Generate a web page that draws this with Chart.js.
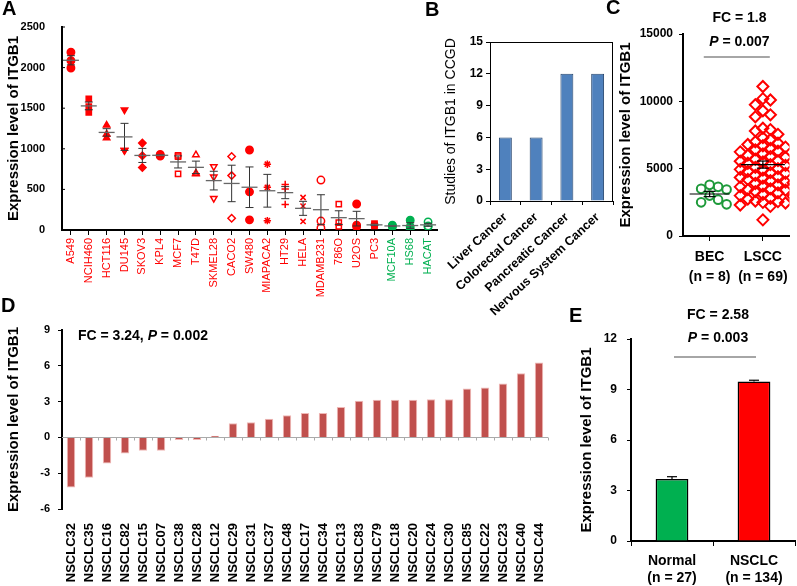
<!DOCTYPE html>
<html lang="en">
<head>
<meta charset="UTF-8">
<title>ITGB1 expression</title>
<script src="https://cdn.jsdelivr.net/npm/chart.js"></script>
<style>
  body { margin: 0; background: #fff; }
  #fig { position: relative; width: 797px; height: 586px; overflow: hidden; background: #fff; }
  #fig canvas { position: absolute; }
  .lbl { position: absolute; font: bold 20px Arial, "Liberation Sans", sans-serif; line-height: 20px; }
</style>
</head>
<body>
<div id="fig">
  <canvas id="chartA" width="445" height="320" style="left:0;top:0"></canvas>
  <canvas id="chartB" width="180" height="320" style="left:440px;top:0"></canvas>
  <canvas id="chartC" width="187" height="290" style="left:610px;top:0"></canvas>
  <canvas id="chartD" width="560" height="276" style="left:0;top:310px"></canvas>
  <canvas id="chartE" width="237" height="286" style="left:560px;top:300px"></canvas>
  <div class="lbl" style="left:2px;top:-2px">A</div>
  <div class="lbl" style="left:425px;top:-1px">B</div>
  <div class="lbl" style="left:606px;top:-3px">C</div>
  <div class="lbl" style="left:1px;top:295px">D</div>
  <div class="lbl" style="left:569px;top:305px">E</div>
</div>
<script>
// ---- data ----
// A: cell lines, three replicates each
const cellLines = ['A549', 'NCIH460', 'HCT116', 'DU145', 'SKOV3', 'KPL4', 'MCF7', 'T47D', 'SKMEL28', 'CACO2',
  'SW480', 'MIAPACA2', 'HT29', 'HELA', 'MDAMB231', '786O', 'U2OS', 'PC3', 'MCF10A', 'HS68', 'HACAT'];
const cellValues = [
  [2190, 2085, 1995], [1615, 1520, 1450], [1290, 1180, 1135], [1480, 980, 980], [1070, 915, 770],
  [930, 920, 910], [920, 905, 690], [925, 700, 690], [780, 655, 390], [905, 670, 145],
  [985, 470, 125], [810, 525, 115], [560, 505, 315], [400, 295, 105], [615, 110, 25],
  [320, 90, 45], [320, 60, 40], [80, 60, 50], [50, 40, 60], [120, 40, 5], [100, 50, 40]
];
const normalLines = ['MCF10A', 'HS68', 'HACAT'];

// B: CCGD studies
const cancerTypes = ['Liver Cancer', 'Colorectal Cancer', 'Pancreatic Cancer', 'Nervous System Cancer'];
const studyCounts = [6, 6, 12, 12];

// C: BEC vs LSCC
const groupsC = [['BEC', '(n = 8)'], ['LSCC', '(n = 69)']];
const becValues = [3800, 3650, 3500, 3450, 3000, 2700, 2500, 2350];
const lsccValues = [11100, 10200, 10100, 9750, 9300, 9000, 8850, 8000, 7900, 7800,
  7550, 7300, 7150, 7000, 6900, 6700, 6600, 6500, 6400, 6300,
  6250, 6100, 6000, 5900, 5850, 5700, 5600, 5550, 5400, 5300,
  5250, 5100, 5000, 4950, 4800, 4700, 4650, 4500, 4400, 4350,
  4200, 4100, 4000, 3950, 3800, 3700, 3650, 3500, 3450, 3300,
  3200, 3100, 3000, 2950, 2800, 2750, 2600, 2550, 2500, 2450,
  2300, 2200, 6800, 5500, 4900, 4300, 3900, 3400, 1200];

// D: NSCLC samples
const samplesD = ['NSCLC32', 'NSCLC35', 'NSCLC16', 'NSCLC82', 'NSCLC15', 'NSCLC07', 'NSCLC38', 'NSCLC28', 'NSCLC12',
  'NSCLC29', 'NSCLC31', 'NSCLC37', 'NSCLC48', 'NSCLC17', 'NSCLC34', 'NSCLC13', 'NSCLC83', 'NSCLC79', 'NSCLC18',
  'NSCLC20', 'NSCLC24', 'NSCLC30', 'NSCLC85', 'NSCLC22', 'NSCLC23', 'NSCLC40', 'NSCLC44'];
const valuesD = [-4.2, -3.39, -2.19, -1.35, -1.12, -1.12, -0.22, -0.22, 0.14,
  1.18, 1.26, 1.57, 1.85, 2.05, 2.05, 2.55, 3.08, 3.15, 3.15,
  3.15, 3.2, 3.2, 4.09, 4.18, 4.51, 5.38, 6.28];

// E: Normal vs NSCLC
const groupsE = [['Normal', '(n = 27)'], ['NSCLC', '(n = 134)']];
const meansE = [3.68, 9.47];
const semE = [0.14, 0.08];

// ---- styles ----
const FONT = 'Arial, "Liberation Sans", sans-serif';
const RED = '#ff0000';
const GREEN = '#00b050';
Chart.defaults.font.family = FONT;
Chart.defaults.color = '#000';
Chart.defaults.animation = false;
Chart.defaults.responsive = false;
Chart.defaults.plugins.legend.display = false;
Chart.defaults.plugins.tooltip.enabled = false;

// marker per cell line: [style, filled, rotation]
const markA = [['circle', 1, 0], ['rect', 1, 0], ['triangle', 1, 0], ['triangle', 1, 180], ['rectRot', 1, 0],
  ['circle', 1, 0], ['rect', 0, 0], ['triangle', 0, 0], ['triangle', 0, 180], ['rectRot', 0, 0],
  ['circle', 1, 0], ['star', 0, 0], ['cross', 0, 0], ['crossRot', 0, 0], ['circle', 0, 0],
  ['rect', 0, 0], ['circle', 1, 0], ['rect', 1, 0], ['circle', 1, 0], ['circle', 1, 0], ['circle', 0, 0]];

function fixW(w) { return s => { s.width = w; s.paddingTop = 0; s.paddingBottom = 0; }; }
function fixH(h) { return s => { s.height = h; s.paddingLeft = 0; s.paddingRight = 0; }; }
const plain = v => String(v);
const mean = a => a.reduce((p, v) => p + v, 0) / a.length;
const sem = a => { const m = mean(a); return Math.sqrt(a.reduce((p, v) => p + (v - m) ** 2, 0) / (a.length - 1)) / Math.sqrt(a.length); };

function line(ctx, x1, y1, x2, y2) { ctx.beginPath(); ctx.moveTo(x1, y1); ctx.lineTo(x2, y2); ctx.stroke(); }

// text with italic parts, parts = [[text, italic], ...]
function richText(ctx, parts, x, y, size, align) {
  ctx.save();
  ctx.textBaseline = 'middle';
  ctx.fillStyle = '#000';
  let w = 0;
  parts.forEach(p => { ctx.font = (p[1] ? 'italic ' : '') + 'bold ' + size + 'px ' + FONT; w += ctx.measureText(p[0]).width; });
  let cx = align === 'left' ? x : x - w / 2;
  ctx.textAlign = 'left';
  parts.forEach(p => {
    ctx.font = (p[1] ? 'italic ' : '') + 'bold ' + size + 'px ' + FONT;
    ctx.fillText(p[0], cx, y);
    cx += ctx.measureText(p[0]).width;
  });
  ctx.restore();
}

function yTitle(text, size, pad, bold) {
  return { display: true, text: text, color: '#000', font: { size: size, weight: bold ? 'bold' : 'normal' }, padding: { top: pad, bottom: 0 } };
}

// ---- A ----
new Chart(document.getElementById('chartA'), {
  type: 'scatter',
  data: {
    labels: cellLines,
    datasets: cellLines.map((name, i) => {
      const col = normalLines.includes(name) ? GREEN : RED;
      return {
        data: cellValues[i].map(v => ({ x: name, y: v })),
        pointStyle: markA[i][0],
        rotation: markA[i][2],
        pointRadius: 3.7,
        pointBorderWidth: 1.5,
        borderColor: col,
        backgroundColor: markA[i][1] ? col : 'rgba(0,0,0,0)'
      };
    })
  },
  options: {
    layout: { padding: { top: 27, right: 8, left: 0, bottom: 0 } },
    scales: {
      x: {
        type: 'category', offset: true,
        grid: { display: true, drawOnChartArea: false, offset: false, tickLength: 5, color: '#000' },
        border: { color: '#000', width: 2 },
        ticks: { minRotation: 90, maxRotation: 90, autoSkip: false, padding: 3, font: { size: 11 },
          color: c => normalLines.includes(cellLines[c.index]) ? GREEN : RED },
        afterFit: fixH(90)
      },
      y: {
        min: 0, max: 2500,
        grid: { display: false },
        border: { color: '#000', width: 2 },
        ticks: { stepSize: 500, padding: 9, font: { size: 11, weight: 'bold' }, callback: plain },
        title: yTitle('Expression level of ITGB1', 15, 5, true),
        afterFit: fixW(62)
      }
    }
  },
  plugins: [{
    id: 'semA',
    afterDatasetsDraw(chart) {
      const { ctx, chartArea: a, scales: { x, y } } = chart;
      ctx.save();
      // small inward ticks on the y axis
      ctx.strokeStyle = '#000'; ctx.lineWidth = 1;
      y.ticks.forEach(t => { const py = y.getPixelForValue(t.value); line(ctx, a.left, py, a.left + 3, py); });
      cellValues.forEach((vals, i) => {
        const px = x.getPixelForValue(i);
        const m = y.getPixelForValue(mean(vals));
        const s = sem(vals);
        const hi = y.getPixelForValue(mean(vals) + s), lo = y.getPixelForValue(mean(vals) - s);
        ctx.strokeStyle = '#333'; ctx.lineWidth = 1;
        line(ctx, px, hi, px, lo);
        line(ctx, px - 4, hi, px + 4, hi);
        line(ctx, px - 4, lo, px + 4, lo);
        ctx.strokeStyle = '#666'; ctx.lineWidth = 1.3;
        line(ctx, px - 8, m, px + 8, m);
      });
      ctx.restore();
    }
  }]
});

// ---- B ----
new Chart(document.getElementById('chartB'), {
  type: 'bar',
  data: {
    labels: cancerTypes,
    datasets: [{ data: studyCounts, backgroundColor: '#4f81bd', borderColor: '#26456e', borderWidth: 1,
      barPercentage: 0.42, categoryPercentage: 1 }]
  },
  options: {
    layout: { padding: { top: 42, right: 7, left: 0, bottom: 0 } },
    scales: {
      x: {
        grid: { display: true, drawOnChartArea: false, offset: true, tickLength: 4, color: '#000' },
        border: { color: '#000', width: 1 },
        ticks: { minRotation: 43, maxRotation: 43, autoSkip: false, padding: 5, font: { size: 12.5, weight: 'bold' } },
        afterFit: fixH(119)
      },
      y: {
        min: 0, max: 15,
        grid: { display: true, drawOnChartArea: false, tickLength: 4, color: '#000' },
        border: { color: '#000', width: 1 },
        ticks: { stepSize: 3, padding: 3, font: { size: 12, weight: 'bold' } },
        title: yTitle('Studies of ITGB1 in CCGD', 14, 3, false),
        afterFit: fixW(50)
      }
    }
  },
  plugins: [{
    id: 'frame',
    afterDraw(chart) {
      const { ctx, chartArea: a } = chart;
      ctx.save(); ctx.strokeStyle = '#000'; ctx.lineWidth = 1;
      ctx.strokeRect(a.left + 0.5, a.top + 0.5, a.width - 1, a.height);
      ctx.restore();
    }
  }]
});

// ---- C ----
// simple beeswarm so the markers of a group do not sit on top of each other
function swarm(values, center, pxPerX, pxPerY, gap) {
  const placed = [];
  return values.slice().sort((a, b) => b - a).map(v => {
    const py = v * pxPerY;
    for (let k = 0; k < 40; k++) {
      const dx = (k % 2 ? 1 : -1) * Math.ceil(k / 2) * gap;
      if (!placed.some(p => Math.abs(p[0] - dx) < gap && Math.abs(p[1] - py) < gap)) {
        placed.push([dx, py]);
        return { x: center + dx / pxPerX, y: v };
      }
    }
    return { x: center, y: v };
  });
}
new Chart(document.getElementById('chartC'), {
  type: 'scatter',
  data: {
    datasets: [
      { data: swarm(becValues, 0, 56.5, 202 / 15000, 9), pointStyle: 'circle', pointRadius: 4.3, pointBorderWidth: 2,
        borderColor: '#1e9a3a', backgroundColor: 'rgba(0,0,0,0)' },
      { data: swarm(lsccValues, 1, 56.5, 202 / 15000, 8), pointStyle: 'rectRot', pointRadius: 5.5, pointBorderWidth: 2,
        borderColor: RED, backgroundColor: 'rgba(0,0,0,0)' }
    ]
  },
  options: {
    layout: { padding: { top: 34, right: 1, left: 0, bottom: 0 } },
    scales: {
      x: {
        type: 'linear', min: -0.5, max: 1.5,
        afterBuildTicks: s => { s.ticks = [{ value: 0 }, { value: 1 }]; },
        grid: { display: true, drawOnChartArea: false, tickLength: 5, color: '#000' },
        border: { color: '#000', width: 2 },
        ticks: { padding: 6, font: { size: 14, weight: 'bold', lineHeight: 1.45 }, callback: v => groupsC[v] },
        afterFit: fixH(54)
      },
      y: {
        min: 0, max: 15000,
        grid: { display: true, drawOnChartArea: false, tickLength: 4, color: '#000' },
        border: { color: '#000', width: 2 },
        ticks: { stepSize: 5000, padding: 6, font: { size: 12, weight: 'bold' }, callback: plain },
        title: yTitle('Expression level of ITGB1', 15, 7, true),
        afterFit: fixW(73)
      }
    }
  },
  plugins: [{
    id: 'annC',
    afterDatasetsDraw(chart) {
      const { ctx, chartArea: a, scales: { x, y } } = chart;
      ctx.save();
      [becValues, lsccValues].forEach((vals, i) => {
        const px = x.getPixelForValue(i), m = mean(vals), s = sem(vals);
        const hi = y.getPixelForValue(m + s), lo = y.getPixelForValue(m - s), pm = y.getPixelForValue(m);
        const half = i ? 22 : 20;
        ctx.strokeStyle = '#000'; ctx.lineWidth = 1.2;
        line(ctx, px - half, pm, px + half, pm);
        line(ctx, px, hi, px, lo);
        line(ctx, px - 6, hi, px + 6, hi);
        line(ctx, px - 6, lo, px + 6, lo);
      });
      const yl = y.getPixelForValue(13300);
      ctx.strokeStyle = '#888'; ctx.lineWidth = 1.5;
      line(ctx, x.getPixelForValue(-0.11), yl, x.getPixelForValue(1.13), yl);
      ctx.restore();
      const cx = x.getPixelForValue(0.56);
      richText(ctx, [['FC = 1.8', false]], cx, a.top - 16, 14);
      richText(ctx, [['P', true], [' = 0.007', false]], cx, a.top + 8, 14);
    }
  }]
});

// ---- D ----
new Chart(document.getElementById('chartD'), {
  type: 'bar',
  data: {
    labels: samplesD,
    datasets: [{ data: valuesD, backgroundColor: '#c0504d', borderColor: '#f0b8b6', borderWidth: 1,
      barPercentage: 0.47, categoryPercentage: 1 }]
  },
  options: {
    layout: { padding: { top: 20, right: 12, left: 0, bottom: 0 } },
    scales: {
      x: {
        grid: { display: false },
        border: { display: false },
        ticks: { minRotation: 90, maxRotation: 90, autoSkip: false, padding: 6, font: { size: 13, weight: 'bold' } },
        afterFit: fixH(77)
      },
      y: {
        min: -6, max: 9,
        grid: { display: true, drawOnChartArea: false, tickLength: 4, color: '#000' },
        border: { color: '#000', width: 2 },
        ticks: { stepSize: 3, padding: 8, font: { size: 11, weight: 'bold' } },
        title: yTitle('Expression level of ITGB1', 15, 5, true),
        afterFit: fixW(62)
      }
    }
  },
  plugins: [{
    id: 'zeroD',
    beforeDatasetsDraw(chart) {
      const { ctx, chartArea: a, scales: { x, y } } = chart;
      const y0 = Math.round(y.getPixelForValue(0)) + 0.5;
      ctx.save();
      ctx.strokeStyle = '#aaa'; ctx.lineWidth = 1;
      line(ctx, a.left, y0, a.right, y0);
      const step = a.width / samplesD.length;
      for (let i = 1; i <= samplesD.length; i++) {
        const xb = Math.round(a.left + i * step) + 0.5;
        line(ctx, xb, y0, xb, y0 + 3);
      }
      ctx.restore();
    },
    afterDraw(chart) {
      const { ctx, chartArea: a } = chart;
      richText(ctx, [['FC = 3.24, ', false], ['P', true], [' = 0.002', false]], a.left + 16, a.top + 6, 14, 'left');
    }
  }]
});

// ---- E ----
new Chart(document.getElementById('chartE'), {
  type: 'bar',
  data: {
    labels: groupsE,
    datasets: [{ data: meansE, backgroundColor: [GREEN, RED], borderColor: '#000', borderWidth: 1.5,
      barPercentage: 0.4, categoryPercentage: 1 }]
  },
  options: {
    layout: { padding: { top: 39, right: 2, left: 0, bottom: 0 } },
    scales: {
      x: {
        grid: { display: true, drawOnChartArea: false, offset: true, tickLength: 5, color: '#000' },
        border: { color: '#000', width: 2 },
        ticks: { padding: 7, font: { size: 14, weight: 'bold', lineHeight: 1.22 } },
        afterFit: fixH(45)
      },
      y: {
        min: 0, max: 12,
        grid: { display: true, drawOnChartArea: false, tickLength: 4, color: '#000' },
        border: { color: '#000', width: 2 },
        ticks: { stepSize: 3, padding: 10, font: { size: 12, weight: 'bold' } },
        title: yTitle('Expression level of ITGB1', 15, 18, true),
        afterFit: fixW(71)
      }
    }
  },
  plugins: [{
    id: 'annE',
    afterDatasetsDraw(chart) {
      const { ctx, chartArea: a, scales: { x, y } } = chart;
      ctx.save();
      ctx.strokeStyle = '#000'; ctx.lineWidth = 1.2;
      meansE.forEach((m, i) => {
        const px = x.getPixelForValue(i), top = y.getPixelForValue(m + semE[i]);
        line(ctx, px, y.getPixelForValue(m), px, top);
        line(ctx, px - 5, top, px + 5, top);
      });
      const yl = y.getPixelForValue(10.93);
      ctx.strokeStyle = '#888'; ctx.lineWidth = 1.5;
      line(ctx, x.getPixelForValue(0) + 2, yl, x.getPixelForValue(1) + 2, yl);
      ctx.restore();
      const cx = (x.getPixelForValue(0) + x.getPixelForValue(1)) / 2 + 5;
      richText(ctx, [['FC = 2.58', false]], cx, a.top - 24, 14);
      richText(ctx, [['P', true], [' = 0.003', false]], cx, a.top - 1, 14);
    }
  }]
});
</script>
</body>
</html>
